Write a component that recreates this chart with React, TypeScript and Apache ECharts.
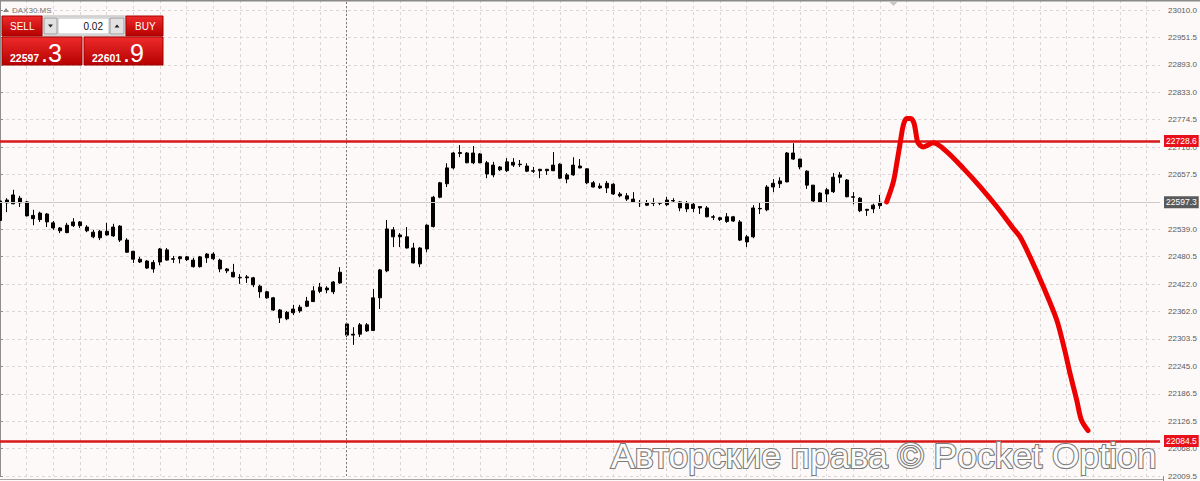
import React, { useEffect, useRef } from "react";
import * as echarts from "echarts";

// ---------- data ----------
const SYMBOL = "DAX30.MS";
const LOT = "0.02";
const SELL_MAIN = "22597";
const SELL_FRAC = ".3";
const BUY_MAIN = "22601";
const BUY_FRAC = ".9";
const RESISTANCE = 22728.6;
const SUPPORT = 22084.5;
const LAST_PRICE = 22597.3;
const SEPARATOR_INDEX = 52;
const CATEGORY_COUNT = 175;

const Y_MIN = 22009.5;
const Y_MAX = 23031.5;
const Y_STEP = 58.85;

// right price-scale labels (bottom to top); the one under the bid box is hidden
const TICK_LABELS = [
  "22009.5", "22068.0", "22126.5", "22186.5", "22245.0", "22303.5", "22362.0",
  "22422.0", "22480.5", "22539.0", "22657.5", "22716.0", "22774.5", "22833.0",
  "22893.0", "22951.5", "23010.0",
];

// [open, close, low, high]
const CANDLES: number[][] = [
  [22600, 22558, 22555, 22604], [22596, 22602, 22576, 22606], [22594, 22613, 22593, 22624],
  [22606, 22596, 22587, 22611], [22598, 22568, 22567, 22600], [22569, 22562, 22548, 22581],
  [22560, 22574, 22555, 22577], [22572, 22555, 22544, 22574], [22553, 22542, 22538, 22557],
  [22542, 22536, 22531, 22544], [22532, 22548, 22531, 22553], [22547, 22555, 22544, 22563],
  [22555, 22547, 22542, 22557], [22544, 22536, 22533, 22548], [22533, 22523, 22520, 22538],
  [22521, 22535, 22516, 22538], [22535, 22527, 22526, 22553], [22525, 22544, 22523, 22551],
  [22546, 22516, 22512, 22548], [22516, 22490, 22489, 22520], [22492, 22475, 22467, 22493],
  [22475, 22469, 22467, 22480], [22471, 22456, 22454, 22473], [22468, 22454, 22446, 22473],
  [22469, 22497, 22462, 22499], [22495, 22473, 22472, 22499], [22475, 22476, 22467, 22482],
  [22476, 22480, 22466, 22482], [22480, 22474, 22471, 22482], [22473, 22459, 22457, 22478],
  [22459, 22480, 22457, 22482], [22478, 22486, 22467, 22488], [22486, 22476, 22473, 22490],
  [22473, 22454, 22447, 22476], [22454, 22450, 22445, 22456], [22447, 22437, 22436, 22465],
  [22436, 22435, 22422, 22443], [22435, 22437, 22424, 22441], [22435, 22420, 22415, 22437],
  [22417, 22405, 22392, 22420], [22405, 22392, 22390, 22407], [22392, 22366, 22364, 22394],
  [22366, 22349, 22338, 22368], [22347, 22361, 22344, 22364], [22360, 22368, 22355, 22377],
  [22364, 22372, 22360, 22377], [22374, 22385, 22372, 22394], [22384, 22407, 22383, 22417],
  [22406, 22415, 22402, 22424], [22413, 22409, 22402, 22417], [22405, 22426, 22400, 22428],
  [22424, 22447, 22422, 22458], [22336, 22312, 22308, 22338], [22312, 22314, 22291, 22329],
  [22314, 22334, 22308, 22338], [22334, 22321, 22319, 22338], [22322, 22392, 22321, 22411],
  [22392, 22452, 22368, 22454], [22450, 22540, 22447, 22559], [22538, 22523, 22501, 22544],
  [22523, 22527, 22501, 22531], [22523, 22499, 22498, 22544], [22499, 22467, 22466, 22510],
  [22465, 22499, 22458, 22501], [22497, 22548, 22490, 22550], [22545, 22608, 22543, 22611],
  [22608, 22639, 22606, 22641], [22637, 22671, 22630, 22681], [22671, 22703, 22668, 22705],
  [22702, 22704, 22694, 22720], [22703, 22682, 22681, 22705], [22682, 22703, 22679, 22718],
  [22701, 22682, 22681, 22703], [22682, 22658, 22649, 22686], [22656, 22677, 22651, 22684],
  [22673, 22667, 22664, 22675], [22665, 22684, 22662, 22692], [22683, 22677, 22673, 22692],
  [22678, 22679, 22673, 22688], [22675, 22664, 22662, 22681], [22664, 22665, 22660, 22673],
  [22665, 22668, 22649, 22669], [22668, 22665, 22656, 22669], [22665, 22677, 22664, 22705],
  [22679, 22649, 22647, 22681], [22647, 22656, 22638, 22660], [22656, 22677, 22654, 22694],
  [22675, 22671, 22670, 22690], [22669, 22639, 22636, 22670], [22639, 22630, 22629, 22643],
  [22632, 22628, 22626, 22638], [22628, 22638, 22617, 22643], [22636, 22615, 22613, 22638],
  [22615, 22611, 22608, 22619], [22611, 22604, 22600, 22617], [22604, 22598, 22596, 22619],
  [22597, 22596, 22587, 22602], [22596, 22591, 22589, 22602], [22595, 22596, 22589, 22606],
  [22596, 22595, 22591, 22598], [22592, 22602, 22589, 22609], [22601, 22600, 22596, 22606],
  [22598, 22585, 22578, 22600], [22594, 22583, 22576, 22600], [22584, 22593, 22576, 22596],
  [22588, 22585, 22572, 22588], [22585, 22566, 22565, 22589], [22566, 22565, 22559, 22570],
  [22564, 22560, 22557, 22566], [22556, 22566, 22553, 22574], [22566, 22557, 22555, 22568],
  [22555, 22516, 22514, 22559], [22512, 22523, 22501, 22527], [22523, 22585, 22520, 22591],
  [22584, 22583, 22572, 22596], [22581, 22630, 22578, 22634], [22630, 22638, 22619, 22647],
  [22637, 22643, 22628, 22651], [22641, 22703, 22640, 22705], [22703, 22690, 22688, 22724],
  [22690, 22673, 22668, 22690], [22664, 22634, 22626, 22666], [22634, 22600, 22598, 22634],
  [22598, 22617, 22596, 22619], [22615, 22624, 22596, 22628], [22620, 22651, 22617, 22660],
  [22651, 22656, 22638, 22662], [22645, 22609, 22608, 22647], [22609, 22608, 22593, 22619],
  [22606, 22579, 22576, 22608], [22580, 22582, 22568, 22583], [22583, 22591, 22574, 22594],
  [22590, 22597.3, 22583, 22613],
];

// hand-drawn forecast stroke: [bar position, price]
const FORECAST: number[][] = [
  [133.0, 22598], [134.0, 22641], [134.6, 22688], [135.1, 22731], [135.5, 22763],
  [136.0, 22777], [136.6, 22777], [137.1, 22767], [137.4, 22745], [137.7, 22725],
  [138.5, 22716], [139.2, 22720], [140.0, 22725], [142.0, 22706], [144.5, 22670],
  [147.0, 22631], [149.5, 22588], [152.0, 22541], [153.0, 22523], [154.5, 22480],
  [156.5, 22416], [158.5, 22345], [159.7, 22280], [160.5, 22230], [161.5, 22173],
  [162.2, 22130], [163.2, 22107],
];

const WATERMARK = "Авторские права © Pocket Option";

// ---------- chart ----------
const FONT = "Liberation Sans";
const CATEGORIES = Array.from({ length: CATEGORY_COUNT }, (_, i) => String(i));

function redGrad() {
  return new echarts.graphic.LinearGradient(0, 0, 0, 1, [
    { offset: 0, color: "#ee2b2b" },
    { offset: 1, color: "#b60000" },
  ]);
}

function priceBox(bg: string) {
  return {
    show: true,
    position: "end" as const,
    distance: 4,
    color: "#ffffff",
    fontSize: 8.5,
    fontFamily: FONT,
    padding: [2, 2, 1, 2],
    backgroundColor: bg,
    formatter: (p: any) => Number(p.value).toFixed(1),
  };
}

function buildOption(): any {
  return {
    animation: false,
    backgroundColor: "#fdf9f8",
    grid: { left: 0, right: 40, top: 0, bottom: 5, containLabel: false },
    xAxis: [
      {
        type: "category",
        data: CATEGORIES,
        boundaryGap: false,
        axisLine: { show: false },
        axisTick: { show: false },
        axisLabel: { show: false },
        splitLine: {
          show: true,
          interval: 3,
          lineStyle: { color: "#dcd6d6", type: [3, 3], width: 1 },
        },
      },
      {
        type: "value",
        min: 0,
        max: CATEGORY_COUNT - 1,
        show: false,
        splitLine: { show: false },
      },
    ],
    yAxis: {
      type: "value",
      position: "right",
      offset: 3,
      min: Y_MIN,
      max: Y_MAX,
      interval: Y_STEP,
      axisLine: { show: true, lineStyle: { color: "#8e8e8e", width: 1 } },
      axisTick: { show: true, length: 3, lineStyle: { color: "#8e8e8e" } },
      axisLabel: {
        margin: 5,
        color: "#5a5a5a",
        fontSize: 8,
        fontFamily: FONT,
        showMinLabel: true,
        showMaxLabel: true,
        formatter: (v: number) => {
          const hit = TICK_LABELS.find((t) => Math.abs(Number(t) - v) < 3);
          return hit || "";
        },
      },
      splitLine: { show: true, lineStyle: { color: "#dcd6d6", type: [3, 3], width: 1 } },
    },
    series: [
      {
        type: "candlestick",
        xAxisIndex: 0,
        data: CANDLES,
        barWidth: 3.5,
        itemStyle: {
          color: "#000000",
          color0: "#000000",
          borderColor: "#000000",
          borderColor0: "#000000",
          borderWidth: 1,
        },
        markLine: {
          silent: true,
          symbol: ["none", "none"],
          animation: false,
          data: [
            {
              xAxis: SEPARATOR_INDEX,
              lineStyle: { color: "#7c7c7c", type: [2, 2], width: 1 },
              label: { show: false },
            },
            {
              yAxis: LAST_PRICE,
              lineStyle: { color: "#cfcaca", type: "solid", width: 1 },
              label: priceBox("#5a5a5a"),
            },
            {
              yAxis: RESISTANCE,
              lineStyle: { color: "#d81818", type: "solid", width: 2.5 },
              label: priceBox("#e8101a"),
            },
            {
              yAxis: SUPPORT,
              lineStyle: { color: "#d81818", type: "solid", width: 2.5 },
              label: priceBox("#e8101a"),
            },
          ],
        },
      },
      {
        type: "line",
        xAxisIndex: 1,
        data: FORECAST,
        showSymbol: false,
        smooth: 0.3,
        z: 5,
        lineStyle: { color: "#ec0000", width: 5, cap: "round", join: "round" },
      },
    ],
    graphic: [
      // borders and marker
      { type: "rect", shape: { x: 0, y: 0, width: 1200, height: 1.5 }, style: { fill: "#8a8a8a" }, z: 100 },
      { type: "line", shape: { x1: 0, y1: 479.5, x2: 1163, y2: 479.5 }, style: { stroke: "#a8a8a8", lineWidth: 1 }, z: 100 },
      { type: "line", shape: { x1: 1163.5, y1: 476, x2: 1163.5, y2: 481 }, style: { stroke: "#8e8e8e", lineWidth: 1 }, z: 100 },
      { type: "polygon", shape: { points: [[889, 1.5], [898, 1.5], [893.5, 6]] }, style: { fill: "#c6c6c6" }, z: 100 },
      // symbol header
      { type: "polygon", shape: { points: [[3, 12], [9, 12], [6, 8]] }, style: { fill: "#8a8a8a" }, z: 100 },
      {
        type: "text", x: 12, y: 10, z: 100,
        style: { text: SYMBOL, fill: "#777777", fontSize: 8, fontFamily: FONT, verticalAlign: "middle" },
      },
      // one-click panel, top row
      { type: "rect", shape: { x: 42, y: 16, width: 84, height: 20 }, style: { fill: "#eeeeee", stroke: "#b5b5b5", lineWidth: 1 }, z: 100 },
      { type: "rect", shape: { x: 2, y: 16, width: 40, height: 20 }, style: { fill: redGrad(), stroke: "#a30000", lineWidth: 1 }, z: 101 },
      {
        type: "text", x: 10, y: 26.5, z: 102,
        style: { text: "SELL", fill: "#ffffff", fontSize: 10, fontFamily: FONT, verticalAlign: "middle" },
      },
      { type: "rect", shape: { x: 44, y: 18, width: 13, height: 16 }, style: { fill: "#e2e2e2", stroke: "#9a9a9a", lineWidth: 1 }, z: 101 },
      { type: "polygon", shape: { points: [[48, 24.5], [53, 24.5], [50.5, 27.5]] }, style: { fill: "#222222" }, z: 102 },
      { type: "rect", shape: { x: 58, y: 18, width: 51, height: 16 }, style: { fill: "#ffffff", stroke: "#bdbdbd", lineWidth: 1 }, z: 101 },
      {
        type: "text", x: 103, y: 26.5, z: 102,
        style: { text: LOT, fill: "#111111", fontSize: 10, fontFamily: FONT, align: "right", verticalAlign: "middle" },
      },
      { type: "rect", shape: { x: 110, y: 18, width: 14, height: 16 }, style: { fill: "#e2e2e2", stroke: "#9a9a9a", lineWidth: 1 }, z: 101 },
      { type: "polygon", shape: { points: [[114.5, 27.5], [119.5, 27.5], [117, 24.5]] }, style: { fill: "#222222" }, z: 102 },
      { type: "rect", shape: { x: 126, y: 16, width: 37, height: 20 }, style: { fill: redGrad(), stroke: "#a30000", lineWidth: 1 }, z: 101 },
      {
        type: "text", x: 135, y: 26.5, z: 102,
        style: { text: "BUY", fill: "#ffffff", fontSize: 10, fontFamily: FONT, verticalAlign: "middle" },
      },
      // bottom row
      { type: "rect", shape: { x: 2, y: 37, width: 80, height: 28 }, style: { fill: redGrad(), stroke: "#a30000", lineWidth: 1 }, z: 101 },
      { type: "rect", shape: { x: 84, y: 37, width: 79, height: 28 }, style: { fill: redGrad(), stroke: "#a30000", lineWidth: 1 }, z: 101 },
      {
        type: "text", x: 10, y: 57.5, z: 102,
        style: { text: SELL_MAIN, fill: "#ffffff", fontSize: 10.5, fontWeight: "bold", fontFamily: FONT, verticalAlign: "middle" },
      },
      {
        type: "text", x: 41, y: 53, z: 102,
        style: { text: SELL_FRAC, fill: "#ffffff", fontSize: 25, fontFamily: FONT, verticalAlign: "middle" },
      },
      {
        type: "text", x: 92, y: 57.5, z: 102,
        style: { text: BUY_MAIN, fill: "#ffffff", fontSize: 10.5, fontWeight: "bold", fontFamily: FONT, verticalAlign: "middle" },
      },
      {
        type: "text", x: 123, y: 53, z: 102,
        style: { text: BUY_FRAC, fill: "#ffffff", fontSize: 25, fontFamily: FONT, verticalAlign: "middle" },
      },
      // watermark
      {
        type: "text", x: 611, y: 455.5, z: 110,
        style: {
          text: WATERMARK,
          fill: "#fbfbfb",
          stroke: "#7a7a7a",
          lineWidth: 2.2,
          fontSize: 35.5,
          fontFamily: FONT,
          verticalAlign: "middle",
        },
      },
    ],
  };
}

export default function App() {
  const ref = useRef<HTMLDivElement>(null);
  useEffect(() => {
    if (!ref.current) return;
    const chart = echarts.init(ref.current, null, { renderer: "svg" });
    chart.setOption(buildOption());
    return () => chart.dispose();
  }, []);
  return (
    <div
      ref={ref}
      style={{ position: "fixed", left: 0, top: 0, width: 1200, height: 481 }}
    />
  );
}
